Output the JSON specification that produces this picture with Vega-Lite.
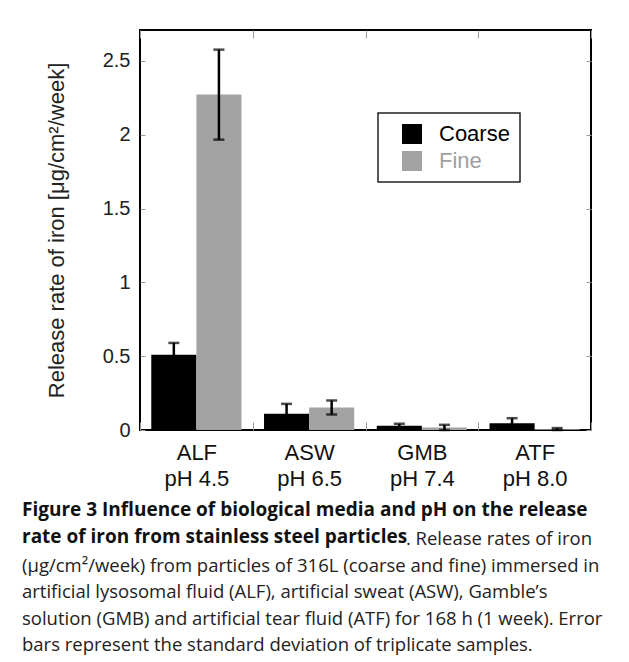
{
  "$schema": "https://vega.github.io/schema/vega-lite/v6.json",
  "width": 451,
  "height": 400,
  "autosize": {"type": "none"},
  "padding": {"left": 140, "top": 30, "right": 38, "bottom": 232},
  "background": "white",
  "config": {
    "font": "Liberation Sans",
    "view": {"stroke": "#000", "strokeWidth": 2},
    "axis": {
      "grid": false,
      "domain": false,
      "labelFont": "Liberation Sans",
      "titleFont": "Liberation Sans",
      "titleFontWeight": "normal",
      "tickColor": "#999",
      "tickWidth": 1
    }
  },
  "title": {
    "text": ["Figure 3 Influence of biological media and pH on the release", "rate of iron from stainless steel particles"],
    "subtitle": ["\u200b\u2003\u2003\u2003\u2003\u2003\u2003\u2003\u2003\u2003\u2003\u2003\u2003\u2003\u2003\u2003\u2003\u2003\u2003\u2003\u2003\u2002\u2005. Release rates of iron", "(μg/cm²/week) from particles of 316L (coarse and fine) immersed in", "artificial lysosomal fluid (ALF), artificial sweat (ASW), Gamble’s", "solution (GMB) and artificial tear fluid (ATF) for 168 h (1 week). Error", "bars represent the standard deviation of triplicate samples."],
    "orient": "bottom",
    "anchor": "start",
    "frame": "group",
    "dx": -118,
    "offset": 12,
    "font": "Open Sans",
    "fontSize": 19,
    "fontWeight": "bold",
    "color": "#111",
    "lineHeight": 26.5,
    "subtitleFont": "Open Sans",
    "subtitleFontSize": 18.5,
    "subtitleColor": "#222",
    "subtitleLineHeight": 26.5,
    "subtitlePadding": -16.5
  },
  "data": {
    "values": [
      {"medium": "ALF|pH 4.5", "size": "Coarse", "value": 0.51, "lo": 0.43, "hi": 0.59},
      {"medium": "ALF|pH 4.5", "size": "Fine", "value": 2.273, "lo": 1.967, "hi": 2.577},
      {"medium": "ASW|pH 6.5", "size": "Coarse", "value": 0.11, "lo": 0.043, "hi": 0.177},
      {"medium": "ASW|pH 6.5", "size": "Fine", "value": 0.152, "lo": 0.105, "hi": 0.2},
      {"medium": "GMB|pH 7.4", "size": "Coarse", "value": 0.028, "lo": 0.014, "hi": 0.042},
      {"medium": "GMB|pH 7.4", "size": "Fine", "value": 0.017, "lo": 0.0, "hi": 0.035},
      {"medium": "ATF|pH 8.0", "size": "Coarse", "value": 0.046, "lo": 0.012, "hi": 0.08},
      {"medium": "ATF|pH 8.0", "size": "Fine", "value": 0.005, "lo": 0.0, "hi": 0.013}
    ]
  },
  "layer": [
    {
      "mark": {"type": "bar"},
      "encoding": {
        "x": {
          "field": "medium",
          "type": "nominal",
          "sort": null,
          "scale": {"paddingInner": 0, "paddingOuter": 0},
          "axis": {
            "title": null,
            "labelExpr": "split(datum.label, '|')",
            "labelFontSize": 22,
            "labelLineHeight": 26,
            "labelColor": "#111",
            "labelAngle": 0,
            "labelPadding": 20,
            "tickBand": "extent",
            "tickSize": -8
          }
        },
        "xOffset": {
          "field": "size",
          "type": "nominal",
          "scale": {"paddingInner": 0, "paddingOuter": 0.25}
        },
        "y": {
          "field": "value",
          "type": "quantitative",
          "scale": {"domain": [0, 2.71], "nice": false},
          "axis": {
            "title": "Release rate of iron [μg/cm²/week]",
            "titleFontSize": 22,
            "titleColor": "#222",
            "titlePadding": 34,
            "values": [0, 0.5, 1, 1.5, 2, 2.5],
            "format": "~g",
            "labelFontSize": 20,
            "labelColor": "#222",
            "tickSize": -5,
            "labelPadding": 15
          }
        },
        "color": {
          "field": "size",
          "type": "nominal",
          "scale": {"domain": ["Coarse", "Fine"], "range": ["#000000", "#a3a3a3"]},
          "legend": {
            "title": null,
            "orient": "none",
            "legendX": 238,
            "legendY": 83,
            "strokeColor": "#222",
            "fillColor": "white",
            "padding": 10,
            "symbolType": "square",
            "symbolSize": 400,
            "symbolOffset": 13,
            "symbolStrokeWidth": 0,
            "labelFontSize": 22,
            "labelOffset": 16,
            "rowPadding": 5,
            "encode": {
              "legend": {"update": {"strokeWidth": {"value": 1.5}}},
              "labels": {"update": {"fill": {"signal": "datum.label === 'Fine' ? '#a0a0a0' : '#000'"}}}
            }
          }
        }
      }
    },
    {
      "mark": {"type": "rule", "color": "#000", "strokeWidth": 2.5},
      "encoding": {
        "x": {
          "field": "medium",
          "type": "nominal",
          "sort": null,
          "axis": {"orient": "top", "labels": false, "title": null, "tickBand": "extent", "tickSize": -8}
        },
        "xOffset": {"field": "size", "type": "nominal"},
        "y": {
          "field": "lo",
          "type": "quantitative",
          "axis": {"orient": "right", "labels": false, "title": null, "values": [0, 0.5, 1, 1.5, 2, 2.5], "tickSize": -5}
        },
        "y2": {"field": "hi"}
      }
    },
    {
      "mark": {"type": "tick", "color": "#000", "thickness": 2.5, "size": 11},
      "encoding": {
        "x": {"field": "medium", "type": "nominal", "sort": null, "axis": null},
        "xOffset": {"field": "size", "type": "nominal"},
        "y": {"field": "hi", "type": "quantitative", "axis": null}
      }
    },
    {
      "mark": {"type": "tick", "color": "#000", "thickness": 2.5, "size": 11},
      "encoding": {
        "x": {"field": "medium", "type": "nominal", "sort": null, "axis": null},
        "xOffset": {"field": "size", "type": "nominal"},
        "y": {"field": "lo", "type": "quantitative", "axis": null}
      }
    }
  ],
  "resolve": {"axis": {"x": "independent", "y": "independent"}}
}
